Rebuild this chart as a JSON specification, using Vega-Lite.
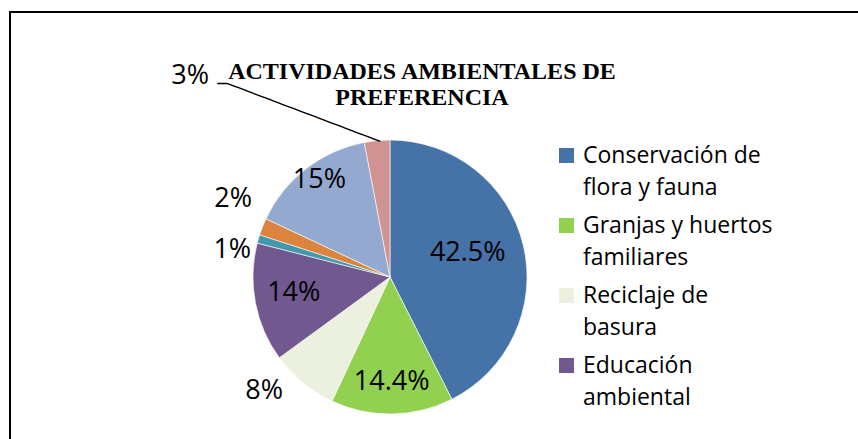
{
  "$schema": "https://vega.github.io/schema/vega-lite/v6.json",
  "autosize": {"type": "pad"},
  "padding": {"left": 9, "top": 11, "right": 0, "bottom": 0},
  "background": "white",
  "spacing": 0,
  "bounds": "flush",
  "config": {
    "view": {"stroke": null},
    "style": {"guide-label": {"lineHeight": 32}}
  },
  "data": {
    "values": [
      {"orden": 1, "actividad": "Conservación de flora y fauna", "valor": 42.5, "pct": "42.5%"},
      {"orden": 2, "actividad": "Granjas y huertos familiares", "valor": 14.4, "pct": "14.4%"},
      {"orden": 3, "actividad": "Reciclaje de basura", "valor": 8, "pct": "8%"},
      {"orden": 4, "actividad": "Educación ambiental", "valor": 14, "pct": "14%"},
      {"orden": 5, "actividad": "Actividad 5", "valor": 1, "pct": "1%"},
      {"orden": 6, "actividad": "Actividad 6", "valor": 2, "pct": "2%"},
      {"orden": 7, "actividad": "Actividad 7", "valor": 15, "pct": "15%"},
      {"orden": 8, "actividad": "Actividad 8", "valor": 3, "pct": "3%"}
    ]
  },
  "hconcat": [
    {
      "width": 760,
      "height": 530,
      "view": {"stroke": "black", "strokeWidth": 2, "strokeDash": [760, 1000, 2000]},
      "title": {
        "text": ["ACTIVIDADES AMBIENTALES DE", "PREFERENCIA"],
        "font": "Liberation Serif",
        "fontSize": 24,
        "fontWeight": "bold",
        "color": "black",
        "lineHeight": 26,
        "anchor": "middle",
        "frame": "group",
        "baseline": "top",
        "offset": -98,
        "dx": 32
      },
      "encoding": {
        "theta": {"field": "valor", "type": "quantitative", "stack": true},
        "order": {"field": "orden", "type": "quantitative"}
      },
      "layer": [
        {
          "mark": {"type": "arc", "outerRadius": 137, "stroke": "white", "strokeWidth": 0.6},
          "encoding": {
            "color": {
              "field": "actividad",
              "type": "nominal",
              "scale": {
                "domain": ["Conservación de flora y fauna", "Granjas y huertos familiares", "Reciclaje de basura", "Educación ambiental", "Actividad 5", "Actividad 6", "Actividad 7", "Actividad 8"],
                "range": ["#4572A7", "#92D050", "#EBF1DE", "#71588F", "#4198AF", "#DB843D", "#93A9CF", "#D19392"]
              },
              "legend": {
                "orient": "none",
                "legendX": 545,
                "legendY": 132,
                "padding": 0,
                "title": null,
                "values": ["Conservación de flora y fauna", "Granjas y huertos familiares", "Reciclaje de basura", "Educación ambiental"],
                "symbolType": "square",
                "symbolSize": 225,
                "symbolStrokeWidth": 0,
                "labelFont": "Open Sans",
                "labelFontSize": 23,
                "labelColor": "black",
                "labelLimit": 300,
                "labelOffset": 5,
                "rowPadding": 14,
                "labelExpr": "datum.label == 'Conservación de flora y fauna' ? ['Conservación de', 'flora y fauna'] : datum.label == 'Granjas y huertos familiares' ? ['Granjas y huertos', 'familiares'] : datum.label == 'Reciclaje de basura' ? ['Reciclaje de', 'basura'] : datum.label == 'Educación ambiental' ? ['Educación', 'ambiental'] : datum.label"
              }
            }
          }
        },
        {
          "mark": {"type": "text", "radius": 82, "dx": -2, "dy": -5, "font": "Open Sans", "fontSize": 27, "color": "black"},
          "encoding": {"detail": {"field": "actividad"}, "text": {"condition": {"test": "datum.orden == 1", "field": "pct", "type": "nominal"}, "value": ""}}
        },
        {
          "mark": {"type": "text", "radius": 105, "font": "Open Sans", "fontSize": 27, "color": "black"},
          "encoding": {"detail": {"field": "actividad"}, "text": {"condition": {"test": "datum.orden == 2", "field": "pct", "type": "nominal"}, "value": ""}}
        },
        {
          "mark": {"type": "text", "radius": 98, "dy": -3, "font": "Open Sans", "fontSize": 27, "color": "black"},
          "encoding": {"detail": {"field": "actividad"}, "text": {"condition": {"test": "datum.orden == 4", "field": "pct", "type": "nominal"}, "value": ""}}
        },
        {
          "mark": {"type": "text", "radius": 120, "dx": 3, "dy": -2, "font": "Open Sans", "fontSize": 27, "color": "black"},
          "encoding": {"detail": {"field": "actividad"}, "text": {"condition": {"test": "datum.orden == 7", "field": "pct", "type": "nominal"}, "value": ""}}
        },
        {
          "mark": {"type": "text", "radius": 168, "dx": -19, "dy": -16, "font": "Open Sans", "fontSize": 27, "color": "black"},
          "encoding": {"detail": {"field": "actividad"}, "text": {"condition": {"test": "datum.orden == 3", "field": "pct", "type": "nominal"}, "value": ""}}
        },
        {
          "mark": {"type": "text", "radius": 160, "dx": -4, "dy": 17, "font": "Open Sans", "fontSize": 27, "color": "black"},
          "encoding": {"detail": {"field": "actividad"}, "text": {"condition": {"test": "datum.orden == 5", "field": "pct", "type": "nominal"}, "value": ""}}
        },
        {
          "mark": {"type": "text", "radius": 160, "dx": -8, "dy": -19, "font": "Open Sans", "fontSize": 27, "color": "black"},
          "encoding": {"detail": {"field": "actividad"}, "text": {"condition": {"test": "datum.orden == 6", "field": "pct", "type": "nominal"}, "value": ""}}
        },
        {
          "mark": {"type": "text", "radius": 137, "dx": -187, "dy": -65, "font": "Open Sans", "fontSize": 27, "color": "black"},
          "encoding": {"detail": {"field": "actividad"}, "text": {"condition": {"test": "datum.orden == 8", "field": "pct", "type": "nominal"}, "value": ""}}
        },
        {
          "mark": {"type": "text", "radius": 137, "dx": 3, "align": "right", "baseline": "middle", "angle": 20.7, "font": "DejaVu Sans Mono", "fontSize": 16, "color": "black"},
          "encoding": {"detail": {"field": "actividad"}, "text": {"condition": {"test": "datum.orden == 8", "value": "─────────────────"}, "value": ""}}
        },
        {
          "mark": {"type": "text", "radius": 137, "dx": -155, "dy": -57, "align": "center", "baseline": "middle", "font": "DejaVu Sans Mono", "fontSize": 16, "color": "black"},
          "encoding": {"detail": {"field": "actividad"}, "text": {"condition": {"test": "datum.orden == 8", "value": "─"}, "value": ""}}
        }
      ]
    },
    {
      "width": 100,
      "height": 530,
      "view": {"stroke": "black", "strokeWidth": 2, "strokeDash": [100, 10000]},
      "mark": {"type": "text"},
      "encoding": {"text": {"value": ""}}
    }
  ]
}
